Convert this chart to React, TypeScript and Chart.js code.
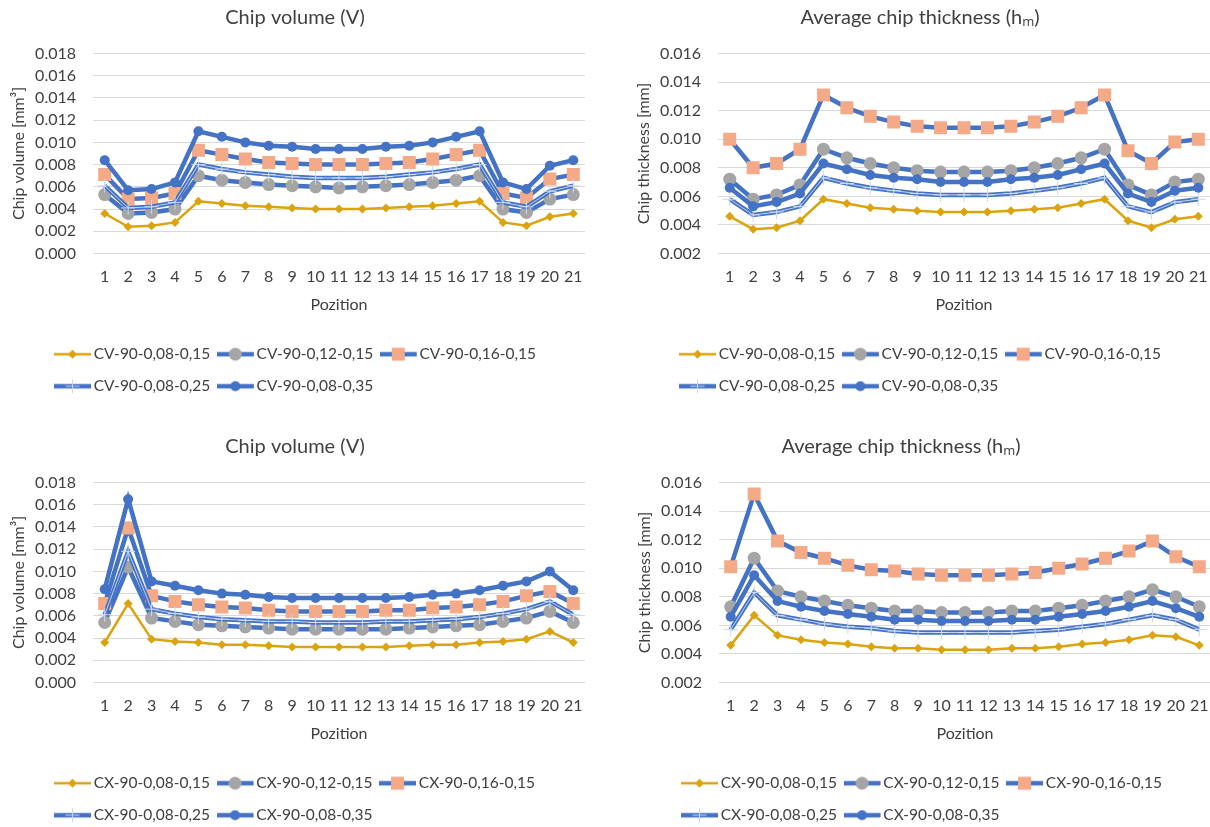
import React, { useEffect, useRef } from 'react';
import { Chart, registerables } from 'chart.js';

Chart.register(...registerables);

// ---------- data ----------
const positions = ['1','2','3','4','5','6','7','8','9','10','11','12','13','14','15','16','17','18','19','20','21'];

const cvSeriesNames = ['CV-90-0,08-0,15', 'CV-90-0,12-0,15', 'CV-90-0,16-0,15', 'CV-90-0,08-0,25', 'CV-90-0,08-0,35'];
const cxSeriesNames = ['CX-90-0,08-0,15', 'CX-90-0,12-0,15', 'CX-90-0,16-0,15', 'CX-90-0,08-0,25', 'CX-90-0,08-0,35'];

// Chip volume, CV (mm3)
const cvVol_008_015 = [0.0036,0.0024,0.0025,0.0028,0.0047,0.0045,0.0043,0.0042,0.0041,0.0040,0.0040,0.0040,0.0041,0.0042,0.0043,0.0045,0.0047,0.0028,0.0025,0.0033,0.0036];
const cvVol_012_015 = [0.0053,0.0036,0.0037,0.0040,0.0070,0.0066,0.0064,0.0062,0.0061,0.0060,0.0059,0.0060,0.0061,0.0062,0.0064,0.0066,0.0070,0.0040,0.0037,0.0049,0.0053];
const cvVol_016_015 = [0.0071,0.0049,0.0050,0.0054,0.0093,0.0089,0.0085,0.0082,0.0081,0.0080,0.0080,0.0080,0.0081,0.0082,0.0085,0.0089,0.0093,0.0054,0.0050,0.0067,0.0071];
const cvVol_008_025 = [0.0061,0.0041,0.0042,0.0046,0.0080,0.0076,0.0073,0.0071,0.0069,0.0068,0.0068,0.0068,0.0069,0.0071,0.0073,0.0076,0.0080,0.0046,0.0042,0.0056,0.0061];
const cvVol_008_035 = [0.0084,0.0057,0.0058,0.0064,0.0110,0.0105,0.0100,0.0097,0.0096,0.0094,0.0094,0.0094,0.0096,0.0097,0.0100,0.0105,0.0110,0.0064,0.0058,0.0079,0.0084];

// Average chip thickness, CV (mm)
const cvThk_008_015 = [0.0046,0.0037,0.0038,0.0043,0.0058,0.0055,0.0052,0.0051,0.0050,0.0049,0.0049,0.0049,0.0050,0.0051,0.0052,0.0055,0.0058,0.0043,0.0038,0.0044,0.0046];
const cvThk_012_015 = [0.0072,0.0058,0.0061,0.0068,0.0093,0.0087,0.0083,0.0080,0.0078,0.0077,0.0077,0.0077,0.0078,0.0080,0.0083,0.0087,0.0093,0.0068,0.0061,0.0070,0.0072];
const cvThk_016_015 = [0.0100,0.0080,0.0083,0.0093,0.0131,0.0122,0.0116,0.0112,0.0109,0.0108,0.0108,0.0108,0.0109,0.0112,0.0116,0.0122,0.0131,0.0092,0.0083,0.0098,0.0100];
const cvThk_008_025 = [0.0058,0.0047,0.0049,0.0053,0.0073,0.0069,0.0066,0.0064,0.0062,0.0061,0.0061,0.0061,0.0062,0.0064,0.0066,0.0069,0.0073,0.0053,0.0049,0.0056,0.0058];
const cvThk_008_035 = [0.0066,0.0053,0.0056,0.0062,0.0083,0.0079,0.0075,0.0073,0.0072,0.0070,0.0070,0.0070,0.0072,0.0073,0.0075,0.0079,0.0083,0.0062,0.0056,0.0064,0.0066];

// Chip volume, CX (mm3)
const cxVol_008_015 = [0.0036,0.0071,0.0039,0.0037,0.0036,0.0034,0.0034,0.0033,0.0032,0.0032,0.0032,0.0032,0.0032,0.0033,0.0034,0.0034,0.0036,0.0037,0.0039,0.0046,0.0036];
const cxVol_012_015 = [0.0054,0.0104,0.0058,0.0055,0.0052,0.0051,0.0050,0.0049,0.0048,0.0048,0.0048,0.0048,0.0048,0.0049,0.0050,0.0051,0.0052,0.0055,0.0058,0.0064,0.0054];
const cxVol_016_015 = [0.0071,0.0139,0.0078,0.0073,0.0070,0.0068,0.0067,0.0065,0.0064,0.0064,0.0064,0.0064,0.0065,0.0065,0.0067,0.0068,0.0070,0.0073,0.0078,0.0082,0.0071];
const cxVol_008_025 = [0.0061,0.0118,0.0066,0.0062,0.0059,0.0057,0.0056,0.0055,0.0055,0.0054,0.0054,0.0054,0.0055,0.0055,0.0056,0.0057,0.0059,0.0062,0.0066,0.0073,0.0061];
const cxVol_008_035 = [0.0084,0.0165,0.0091,0.0087,0.0083,0.0080,0.0079,0.0077,0.0076,0.0076,0.0076,0.0076,0.0076,0.0077,0.0079,0.0080,0.0083,0.0087,0.0091,0.0100,0.0083];

// Average chip thickness, CX (mm)
const cxThk_008_015 = [0.0046,0.0067,0.0053,0.0050,0.0048,0.0047,0.0045,0.0044,0.0044,0.0043,0.0043,0.0043,0.0044,0.0044,0.0045,0.0047,0.0048,0.0050,0.0053,0.0052,0.0046];
const cxThk_012_015 = [0.0073,0.0107,0.0084,0.0080,0.0077,0.0074,0.0072,0.0070,0.0070,0.0069,0.0069,0.0069,0.0070,0.0070,0.0072,0.0074,0.0077,0.0080,0.0085,0.0080,0.0073];
const cxThk_016_015 = [0.0101,0.0152,0.0119,0.0111,0.0107,0.0102,0.0099,0.0098,0.0096,0.0095,0.0095,0.0095,0.0096,0.0097,0.0100,0.0103,0.0107,0.0112,0.0119,0.0108,0.0101];
const cxThk_008_025 = [0.0057,0.0083,0.0067,0.0064,0.0061,0.0059,0.0058,0.0056,0.0055,0.0055,0.0055,0.0055,0.0055,0.0056,0.0057,0.0059,0.0061,0.0064,0.0067,0.0064,0.0057];
const cxThk_008_035 = [0.0066,0.0095,0.0077,0.0073,0.0070,0.0068,0.0066,0.0064,0.0064,0.0063,0.0063,0.0063,0.0064,0.0064,0.0066,0.0068,0.0070,0.0073,0.0077,0.0072,0.0066];

// ---------- style ----------
const FONT = 'Lato, "Open Sans", sans-serif';
const TEXT = '#404040';
const GRID = '#D9D9D9';
const BLUE = '#4472C4';
const GOLD = '#DBA40E';
const GRAY = '#A5A5A5';
const SALMON = '#F4A987';
const PLUS = '#C9D8F0';

const CW = 605;
const CH = 404;
const LEG_FONT = 15.5;
const LEG_PAD = 16.5;
const LEG_BOX = 22;

type Kind = 'diamond' | 'gray' | 'square' | 'plus' | 'dot';
const kinds: Kind[] = ['diamond', 'gray', 'square', 'plus', 'dot'];

function legendSample(kind: Kind): HTMLCanvasElement {
  const c = document.createElement('canvas');
  c.width = LEG_BOX + 20;
  c.height = 18;
  const g = c.getContext('2d')!;
  const cy = 9;
  const cx = 18.5;
  g.lineCap = 'butt';
  g.beginPath();
  g.moveTo(0, cy);
  g.lineTo(37, cy);
  g.strokeStyle = kind === 'diamond' ? GOLD : BLUE;
  g.lineWidth = kind === 'diamond' ? 2.5 : 4.5;
  g.stroke();
  if (kind === 'diamond') {
    g.fillStyle = GOLD;
    g.beginPath();
    g.moveTo(cx, cy - 4.5); g.lineTo(cx + 4.5, cy); g.lineTo(cx, cy + 4.5); g.lineTo(cx - 4.5, cy);
    g.closePath(); g.fill();
  } else if (kind === 'gray') {
    g.fillStyle = GRAY;
    g.beginPath(); g.arc(cx, cy, 6.5, 0, Math.PI * 2); g.fill();
  } else if (kind === 'square') {
    g.fillStyle = SALMON;
    g.fillRect(cx - 6.5, cy - 6.5, 13, 13);
  } else if (kind === 'plus') {
    g.strokeStyle = PLUS; g.lineWidth = 1;
    g.beginPath();
    g.moveTo(cx, cy - 7); g.lineTo(cx, cy + 7);
    g.moveTo(cx - 7, cy); g.lineTo(cx + 7, cy);
    g.stroke();
  } else {
    g.fillStyle = BLUE;
    g.beginPath(); g.arc(cx, cy, 5, 0, Math.PI * 2); g.fill();
  }
  return c;
}

function makeDatasets(names: string[], series: number[][]) {
  const out: any[] = [];
  series.forEach((data, i) => {
    const kind = kinds[i];
    const base: any = {
      label: names[i],
      data,
      borderColor: kind === 'diamond' ? GOLD : BLUE,
      borderWidth: kind === 'diamond' ? 2.5 : 4.5,
      tension: 0,
      fill: false,
      order: 10 - 2 * i,
      pointBorderWidth: 0,
    };
    if (kind === 'diamond') Object.assign(base, { pointStyle: 'rectRot', pointRadius: 4.5, pointBackgroundColor: GOLD, pointBorderColor: GOLD });
    if (kind === 'gray') Object.assign(base, { pointStyle: 'circle', pointRadius: 6.5, pointBackgroundColor: GRAY, pointBorderColor: GRAY });
    if (kind === 'square') Object.assign(base, { pointStyle: 'rect', pointRadius: 9.2, pointBackgroundColor: SALMON, pointBorderColor: SALMON });
    if (kind === 'plus') Object.assign(base, { pointStyle: 'cross', pointRadius: 7, pointBorderColor: PLUS, pointBorderWidth: 1, pointBackgroundColor: PLUS });
    if (kind === 'dot') Object.assign(base, { pointStyle: 'circle', pointRadius: 5, pointBackgroundColor: BLUE, pointBorderColor: BLUE });
    out.push(base);
    if (kind === 'plus') {
      // light core of the "+" series line
      out.push({
        label: names[i] + ' core',
        data,
        borderColor: 'rgba(214,226,245,0.85)',
        borderWidth: 1,
        tension: 0,
        fill: false,
        pointRadius: 0,
        order: 10 - 2 * i - 1,
      });
    }
  });
  return out;
}

const shiftPlugin = {
  id: 'shiftBoxes',
  afterLayout(chart: any, _args: any, opts: any) {
    if (chart.legend && opts && opts.legendLeft != null) {
      chart.legend.left = opts.legendLeft;
    }
    if (chart.titleBlock && opts && opts.titleCenter != null) {
      const w = chart.titleBlock.right - chart.titleBlock.left;
      chart.titleBlock.left = opts.titleCenter - w / 2;
      chart.titleBlock.right = opts.titleCenter + w / 2;
    }
  },
};

interface PanelProps {
  left: number;
  top: number;
  title: string;
  yTitle: string;
  names: string[];
  series: number[][];
  yMin: number;
  yMax: number;
  titleCenter?: number;
  legendLeft: number;
}

function Panel(p: PanelProps) {
  const ref = useRef<HTMLCanvasElement>(null);
  useEffect(() => {
    const samples = kinds.map(legendSample);
    const chart = new Chart(ref.current!, {
      type: 'line',
      data: { labels: positions, datasets: makeDatasets(p.names, p.series) },
      plugins: [shiftPlugin as any],
      options: {
        responsive: false,
        animation: false,
        events: [],
        layout: { padding: { left: 5, right: 20, top: 0, bottom: 0 } },
        font: { family: FONT },
        color: TEXT,
        plugins: {
          tooltip: { enabled: false },
          title: {
            display: true,
            text: p.title,
            color: TEXT,
            font: { family: FONT, size: 20, weight: 'normal' },
            padding: { top: 6, bottom: 23.5 },
          },
          legend: {
            display: true,
            position: 'bottom',
            align: 'start',
            labels: {
              usePointStyle: true,
              pointStyleWidth: LEG_BOX,
              padding: LEG_PAD,
              color: TEXT,
              font: { family: FONT, size: LEG_FONT },
              generateLabels: () =>
                p.names.map((n, i) => ({
                  text: n,
                  pointStyle: samples[i] as any,
                  fillStyle: 'transparent',
                  strokeStyle: 'transparent',
                  lineWidth: 0,
                  hidden: false,
                  datasetIndex: i,
                  fontColor: TEXT,
                })),
            },
          },
          shiftBoxes: { legendLeft: p.legendLeft, titleCenter: p.titleCenter },
        } as any,
        scales: {
          x: {
            type: 'category',
            offset: true,
            grid: { display: false, drawTicks: false },
            border: { display: false },
            ticks: { color: TEXT, font: { family: FONT, size: 16 }, padding: 14, maxRotation: 0, autoSkip: false },
            title: { display: true, text: 'Pozition', color: TEXT, font: { family: FONT, size: 16 }, padding: { top: 0, bottom: 15.4 } },
            afterFit: (s: any) => { s.height = 76.5; },
          },
          y: {
            min: p.yMin,
            max: p.yMax,
            grid: { color: GRID, lineWidth: 1, drawTicks: false },
            border: { display: false },
            ticks: {
              stepSize: 0.002,
              color: TEXT,
              font: { family: FONT, size: 16 },
              padding: 17,
              callback: (v: any) => Number(v).toFixed(3),
            },
            title: { display: true, text: p.yTitle, color: TEXT, font: { family: FONT, size: 16 }, padding: { top: 4, bottom: 0 } },
            afterFit: (s: any) => { s.width = 88; },
          },
        },
      } as any,
    });
    return () => chart.destroy();
  }, []);
  return (
    <div style={{ position: 'absolute', left: p.left, top: p.top, width: CW, height: CH }}>
      <canvas ref={ref} width={CW} height={CH} />
    </div>
  );
}

export default function App() {
  return (
    <div style={{ position: 'absolute', left: 0, top: 0, width: 1210, height: 827, overflow: 'hidden', background: '#fff' }}>
      <Panel left={0} top={0} title="Chip volume (V)" yTitle="Chip volume [mm³]" names={cvSeriesNames}
        series={[cvVol_008_015, cvVol_012_015, cvVol_016_015, cvVol_008_025, cvVol_008_035]} yMin={0} yMax={0.018} legendLeft={47.5} />
      <Panel left={625} top={0} title="Average chip thickness (hₘ)" yTitle="Chip thickness [mm]" names={cvSeriesNames}
        series={[cvThk_008_015, cvThk_012_015, cvThk_016_015, cvThk_008_025, cvThk_008_035]} yMin={0.002} yMax={0.016} legendLeft={47.5} />
      <Panel left={0} top={429} title="Chip volume (V)" yTitle="Chip volume [mm³]" names={cxSeriesNames}
        series={[cxVol_008_015, cxVol_012_015, cxVol_016_015, cxVol_008_025, cxVol_008_035]} yMin={0} yMax={0.018} legendLeft={47.5} />
      <Panel left={626} top={429} title="Average chip thickness (hₘ)" yTitle="Chip thickness [mm]" names={cxSeriesNames}
        series={[cxThk_008_015, cxThk_012_015, cxThk_016_015, cxThk_008_025, cxThk_008_035]} yMin={0.002} yMax={0.016} titleCenter={275} legendLeft={48.5} />
    </div>
  );
}
